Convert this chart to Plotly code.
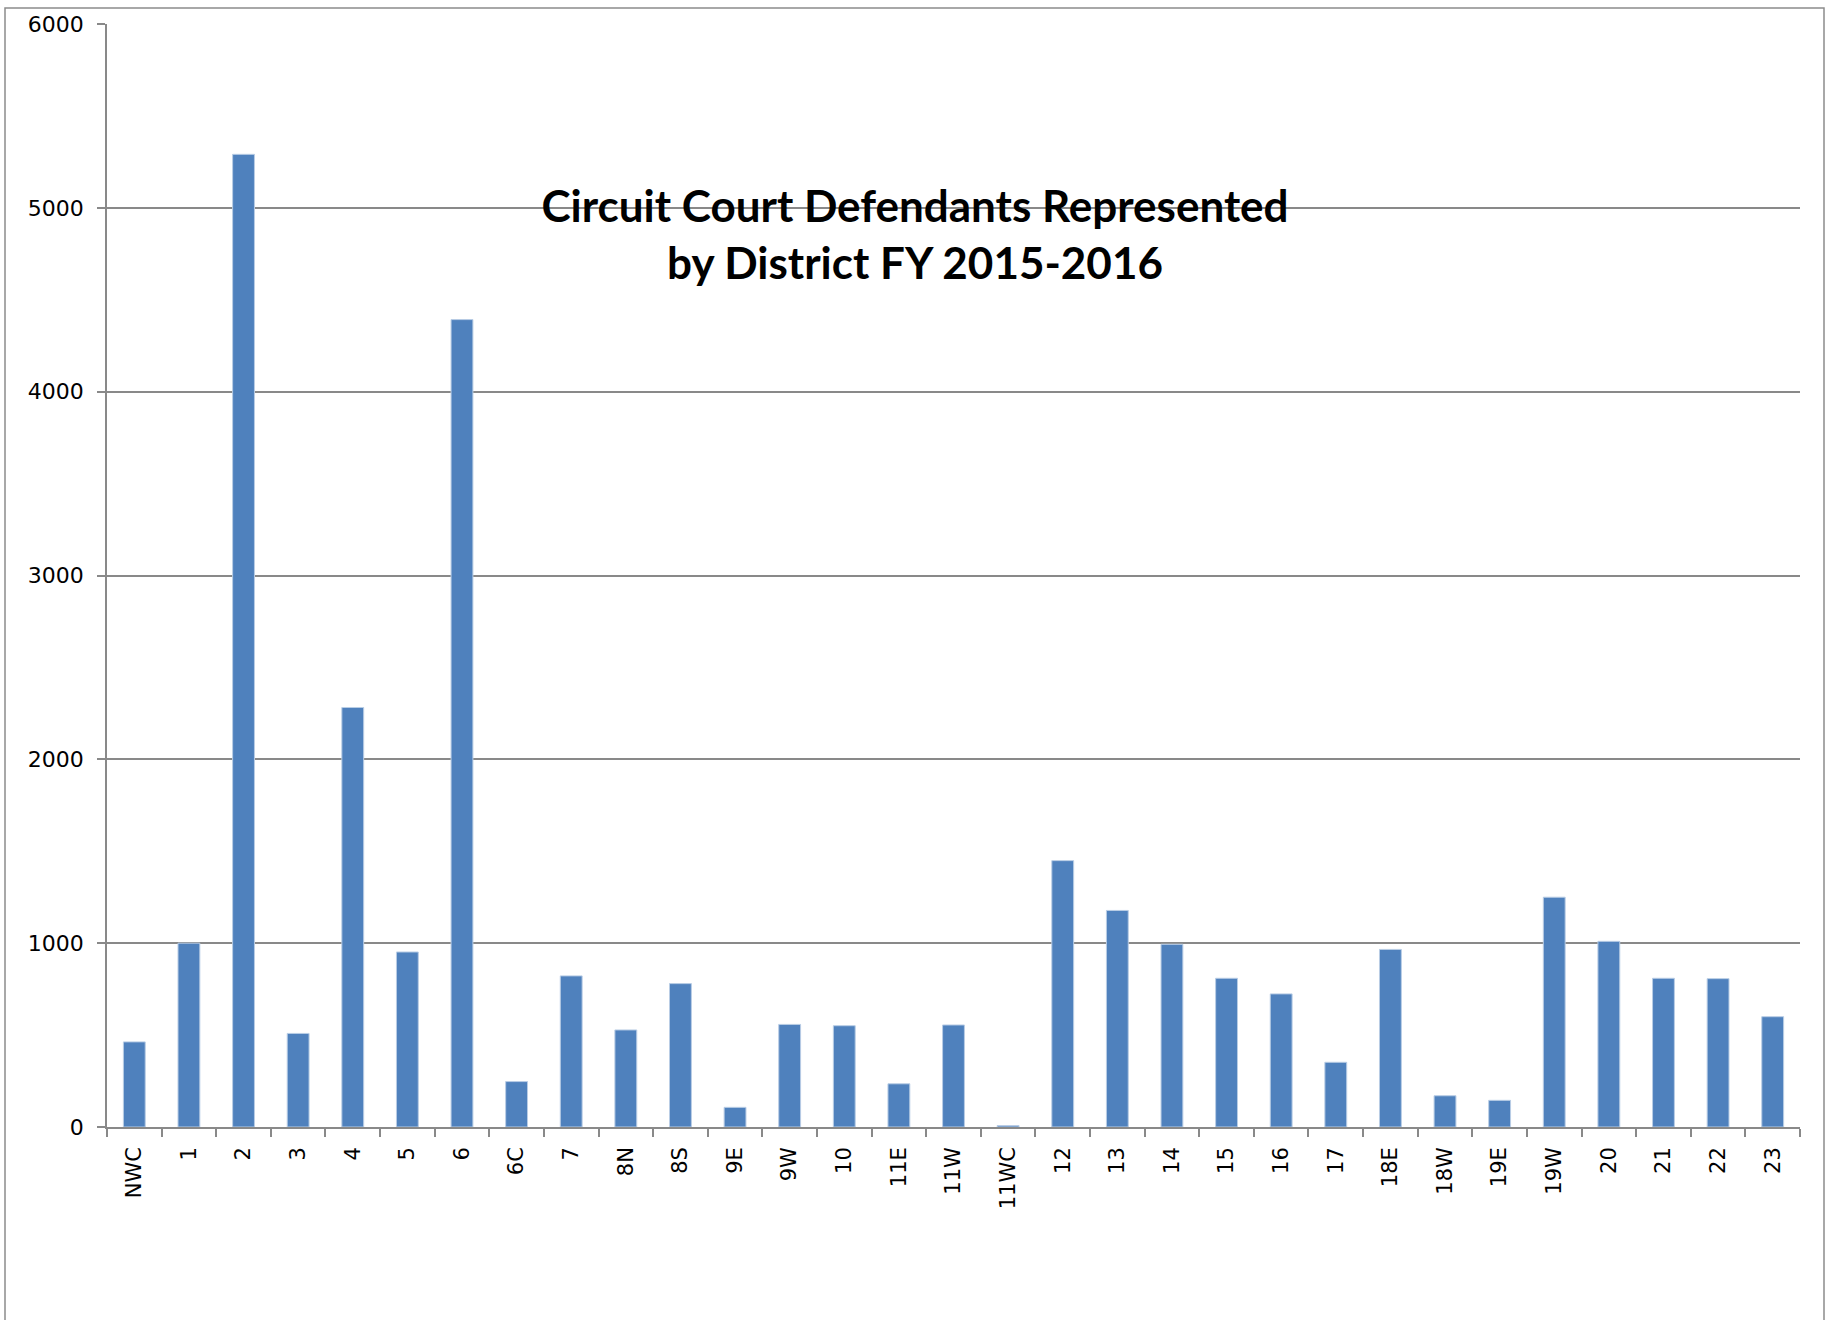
import plotly.graph_objects as go

districts = ["NWC", "1", "2", "3", "4", "5", "6", "6C", "7", "8N", "8S", "9E", "9W", "10",
             "11E", "11W", "11WC", "12", "13", "14", "15", "16", "17", "18E", "18W", "19E",
             "19W", "20", "21", "22", "23"]
defendants = [463, 1000, 5291, 509, 2282, 952, 4392, 247, 822, 528, 780, 107, 558, 551,
              235, 555, 8, 1449, 1178, 994, 809, 724, 352, 966, 170, 145,
              1250, 1010, 809, 807, 600]
y_ticks = [0, 1000, 2000, 3000, 4000, 5000, 6000]

title_text = "Circuit Court Defendants Represented<br>by District FY 2015-2016"

W, H = 1834, 1320
L, R, T, B = 107, 1800, 19, 1127

fig = go.Figure()
fig.add_trace(go.Bar(
    x=districts, y=defendants,
    marker=dict(color="#4F81BD", line=dict(color="#B9CDE5", width=1)),
    showlegend=False,
))

grid = "#898989"
fig.update_layout(
    width=W, height=H,
    margin=dict(l=L, r=W - R, t=T, b=H - B, pad=0),
    paper_bgcolor="white", plot_bgcolor="white",
    bargap=0.6,
    font=dict(family="DejaVu Sans", size=21, color="black"),
    title=dict(text=title_text, x=915 / W, y=1 - 222 / H, xanchor="center", yanchor="middle",
               font=dict(family="Lato", size=44, color="black", weight="bold")),
    xaxis=dict(type="category", categoryorder="array", categoryarray=districts,
               showline=True, linecolor=grid, linewidth=1.5,
               ticks="outside", tickson="boundaries", ticklen=8, tickcolor=grid, tickwidth=1.5,
               tickangle=-90, showgrid=False, tickfont=dict(size=21), ticklabelstandoff=10),
    yaxis=dict(range=[0, 6000], tickvals=y_ticks, showline=True, linecolor=grid, linewidth=1.5,
               ticks="outside", ticklen=8, tickcolor=grid, tickwidth=1.5,
               showgrid=True, gridcolor=grid, gridwidth=1.5, zeroline=False,
               tickfont=dict(size=22), ticklabelstandoff=9),
)

pw, ph = R - L, B - T
fig.add_shape(type="rect", xref="paper", yref="paper",
              x0=(5 - L) / pw, x1=(1824 - L) / pw,
              y0=(B - 1400) / ph, y1=(B - 3) / ph,
              line=dict(color="#8c8c8c", width=1.5), layer="below")

fig.write_html("out.html", config={"displayModeBar": False},
               post_script="document.body.style.margin='0';")
